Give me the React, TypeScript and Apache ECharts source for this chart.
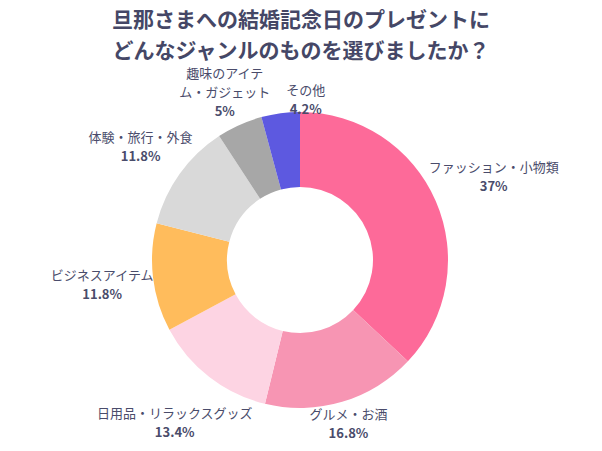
import React, { useEffect, useRef } from 'react';
import * as echarts from 'echarts';

const categories = [
	'ファッション・小物類',
	'グルメ・お酒',
	'日用品・リラックスグッズ',
	'ビジネスアイテム',
	'体験・旅行・外食',
	'趣味のアイテム・ガジェット',
	'その他'
];
const percents = [37, 16.8, 13.4, 11.8, 11.8, 5, 4.2];
const colors = ['#fd6a99', '#f795b3', '#fdd4e3', '#ffbc5c', '#d9d9d9', '#a7a7a7', '#5d59e0'];

const CX = 300;
const CY = 260;
const R_IN = 73;
const R_OUT = 148;
const TEXT = '#4a4c6b';
const FONT = '"Noto Sans CJK JP", "Noto Sans", sans-serif';
const LINE_H = 19;

// long names broken the way the reference does
const wrapAt: Record<string, number> = { '趣味のアイテム・ガジェット': 6 };

const App: React.FC = () => {
	const chartRef = useRef<HTMLDivElement>(null);

	useEffect(() => {
		document.body.style.margin = '0';
		if (!chartRef.current) return;
		const chart = echarts.init(chartRef.current, undefined, { renderer: 'svg' });

		const total = percents.reduce((s, v) => s + v, 0);
		const cum: number[] = [];
		percents.reduce((s, v, i) => {
			cum[i] = s;
			return s + v;
		}, 0);

		// boxes of labels already placed, to nudge overlapping ones
		const placed: { x0: number; x1: number; y0: number; y1: number }[] = [];

		const option: echarts.EChartsOption = {
			animation: false,
			backgroundColor: '#ffffff',
			title: {
				text: '旦那さまへの結婚記念日のプレゼントに\nどんなジャンルのものを選びましたか？',
				left: 'center',
				top: -2,
				textStyle: {
					color: '#454766',
					fontSize: 21,
					fontWeight: 'bold',
					fontFamily: FONT,
					lineHeight: 30.5
				}
			},
			series: [
				{
					type: 'pie',
					center: [CX, CY],
					radius: [R_IN, R_OUT],
					startAngle: 90,
					clockwise: true,
					avoidLabelOverlap: false,
					emphasis: { disabled: true },
					itemStyle: { borderWidth: 0 },
					labelLine: { show: false },
					label: {
						show: true,
						position: 'outside',
						fontFamily: FONT,
						formatter: (p: any) => {
							let name: string = p.name;
							const w = wrapAt[name];
							if (w) name = name.slice(0, w) + '\n' + name.slice(w);
							return name
								.split('\n')
								.map((l) => `{n|${l}}`)
								.join('\n') + `\n{p|${p.value}%}`;
						},
						rich: {
							n: { fontSize: 13, color: TEXT, fontFamily: FONT, lineHeight: LINE_H, align: 'center' },
							p: {
								fontSize: 13,
								color: TEXT,
								fontFamily: FONT,
								fontWeight: 600,
								lineHeight: LINE_H,
								align: 'center'
							}
						}
					},
					labelLayout: (p: any) => {
						const i = p.dataIndex;
						const mid = ((cum[i] + percents[i] / 2) / total) * Math.PI * 2;
						const dx = Math.sin(mid);
						const dy = -Math.cos(mid);
						const w = p.labelRect.width;
						const h = p.labelRect.height;
						// place the label box just clear of the ring along the slice's middle
						const hEff = h * (16 / LINE_H);
						const d = R_OUT - 2 + (w / 2) * Math.abs(dx) + (hEff / 2) * Math.abs(dy);
						let x = CX + dx * d;
						const y = CY + dy * d;
						for (let j = 0; j < i; j++) {
							const b = placed[j];
							if (!b) continue;
							const overlapY = y - h / 2 < b.y1 && y + h / 2 > b.y0;
							const overlapX = x - w / 2 < b.x1 && x + w / 2 > b.x0;
							if (overlapX && overlapY) x = b.x1 + 16 + w / 2;
						}
						placed[i] = { x0: x - w / 2, x1: x + w / 2, y0: y - h / 2, y1: y + h / 2 };
						return { x, y, align: 'center', verticalAlign: 'middle' };
					},
					data: categories.map((name, i) => ({
						name,
						value: percents[i],
						itemStyle: { color: colors[i] }
					}))
				}
			]
		};

		chart.setOption(option);

		return () => {
			chart.dispose();
		};
	}, []);

	return <div ref={chartRef} style={{ width: '602px', height: '451px' }} />;
};

export default App;
